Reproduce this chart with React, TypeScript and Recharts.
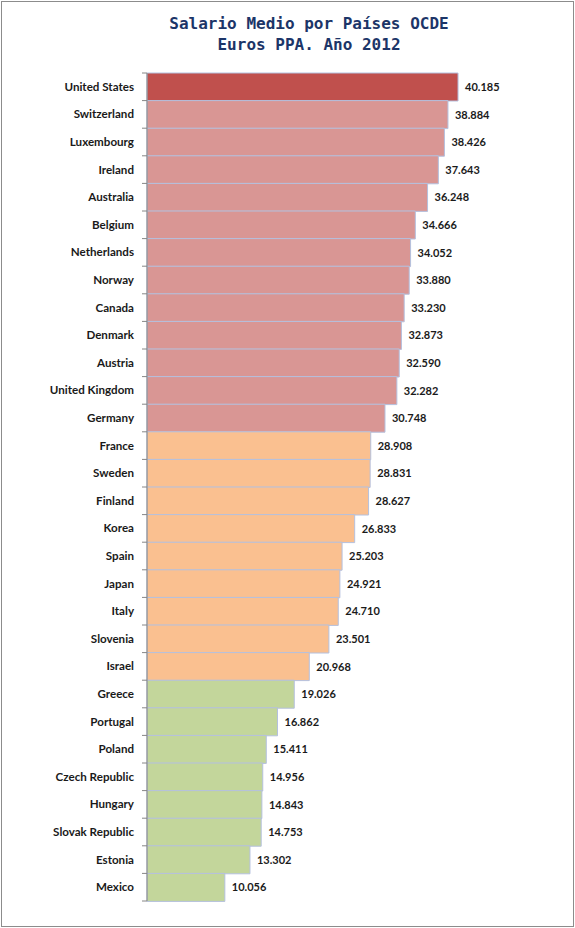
import { Bar, BarChart, Cell, LabelList, XAxis, YAxis } from "recharts";

// Salario medio anual, miles de euros PPA (2012)
const countries = [
  "United States", "Switzerland", "Luxembourg", "Ireland", "Australia",
  "Belgium", "Netherlands", "Norway", "Canada", "Denmark",
  "Austria", "United Kingdom", "Germany", "France", "Sweden",
  "Finland", "Korea", "Spain", "Japan", "Italy",
  "Slovenia", "Israel", "Greece", "Portugal", "Poland",
  "Czech Republic", "Hungary", "Slovak Republic", "Estonia", "Mexico",
];
const salaries = [
  40.185, 38.884, 38.426, 37.643, 36.248,
  34.666, 34.052, 33.88, 33.23, 32.873,
  32.59, 32.282, 30.748, 28.908, 28.831,
  28.627, 26.833, 25.203, 24.921, 24.71,
  23.501, 20.968, 19.026, 16.862, 15.411,
  14.956, 14.843, 14.753, 13.302, 10.056,
];
const xDomain = [0, 50];

const data = countries.map((name, i) => ({ name, value: salaries[i] }));

const W = 575;
const H = 928;
const MARGIN = { top: 73, right: 41, bottom: 27, left: 0 };
const AXIS_W = 147;
const BAND = (H - MARGIN.top - MARGIN.bottom) / countries.length;
const FONT = "Lato, 'Liberation Sans', sans-serif";

function barColor(v: number) {
  if (v >= 40) return "#C0504D";
  if (v >= 30) return "#D99694";
  if (v >= 20) return "#FAC090";
  return "#C3D69B";
}

function CountryTick(props: any) {
  const { y, payload, index } = props;
  const top = y - BAND / 2;
  return (
    <g>
      <line x1={AXIS_W - 5} x2={AXIS_W} y1={top} y2={top} stroke="#868686" />
      {index === countries.length - 1 && (
        <line x1={AXIS_W - 5} x2={AXIS_W} y1={top + BAND} y2={top + BAND} stroke="#868686" />
      )}
      <text
        x={AXIS_W - 13}
        y={y}
        dy={4}
        textAnchor="end"
        fontFamily={FONT}
        fontWeight="bold"
        fontSize={11.6}
        fill="#1a1a1a"
      >
        {payload.value}
      </text>
    </g>
  );
}

export default function App() {
  return (
    <div style={{ position: "absolute", left: 0, top: 0, width: W, height: H, background: "#fff" }}>
      {/* marco */}
      <div
        style={{
          position: "absolute",
          left: 1,
          top: 1,
          width: W - 4,
          height: H - 4,
          border: "1px solid #8c8c8c",
        }}
      />

      {/* título */}
      <div
        style={{
          position: "absolute",
          left: 0,
          top: 13,
          width: 618,
          textAlign: "center",
          fontFamily: "'DejaVu Sans Mono', monospace",
          fontWeight: "bold",
          fontSize: 16,
          lineHeight: "21px",
          color: "#1C3568",
        }}
      >
        Salario Medio por Países OCDE
        <br />
        Euros PPA. Año 2012
      </div>

      <BarChart
        width={W}
        height={H}
        data={data}
        layout="vertical"
        margin={MARGIN}
        barCategoryGap={0}
        style={{ position: "absolute", left: 0, top: 0 }}
      >
        <XAxis type="number" domain={xDomain} hide />
        <YAxis
          type="category"
          dataKey="name"
          width={AXIS_W}
          interval={0}
          tickLine={false}
          axisLine={{ stroke: "#868686" }}
          tick={<CountryTick />}
        />
        <Bar dataKey="value" stroke="#B4C0DE" strokeWidth={1} isAnimationActive={false}>
          {data.map((d) => (
            <Cell key={d.name} fill={barColor(d.value)} />
          ))}
          <LabelList
            dataKey="value"
            position="right"
            offset={7}
            formatter={(v: any) => Number(v).toFixed(3)}
            fontFamily={FONT}
            fontWeight="bold"
            fontSize={11}
            fill="#1a1a1a"
          />
        </Bar>
      </BarChart>
    </div>
  );
}
